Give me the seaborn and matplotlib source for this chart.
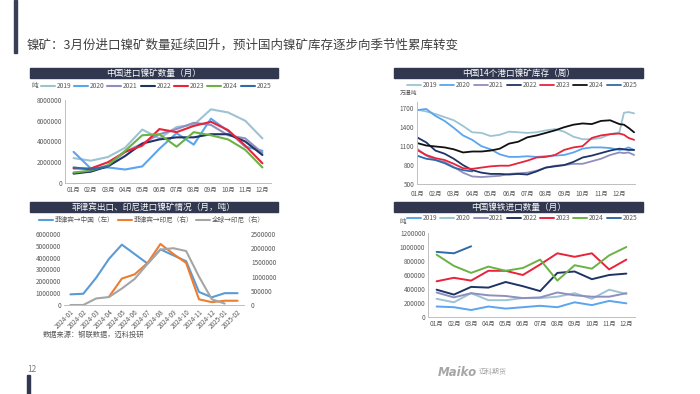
import numpy as np
import pandas as pd
import seaborn as sns
import matplotlib.pyplot as plt
from matplotlib.patches import Rectangle

sns.set_style('white')
plt.rcParams['font.family'] = ['Noto Sans CJK SC', 'DejaVu Sans']
plt.rcParams['axes.unicode_minus'] = False

nan = np.nan

### 数据
months = ['01月', '02月', '03月', '04月', '05月', '06月', '07月', '08月', '09月', '10月', '11月', '12月']
years = ['2019', '2020', '2021', '2022', '2023', '2024', '2025']

# 中国进口镍矿数量（月），吨
ore_2019 = [2400000, 2150000, 2500000, 3400000, 5150000, 4300000, 5400000, 5600000, 7100000, 6800000, 6000000, 4300000]
ore_2020 = [3000000, 1400000, 1500000, 1300000, 1600000, 3300000, 4800000, 3700000, 6200000, 5000000, 3500000, 3100000]
ore_2021 = [1000000, 1100000, 1700000, 3000000, 3800000, 4700000, 5200000, 5800000, 5600000, 4600000, 4300000, 2900000]
ore_2022 = [900000, 1100000, 1600000, 2600000, 3800000, 4200000, 4400000, 4400000, 4700000, 4700000, 4000000, 2700000]
ore_2023 = [1400000, 1400000, 2000000, 3000000, 3600000, 5200000, 4900000, 5500000, 5900000, 5100000, 3600000, 1900000]
ore_2024 = [1000000, 1200000, 1700000, 3100000, 4600000, 4700000, 3500000, 4900000, 4600000, 4200000, 3200000, 1500000]
ore_2025 = [1500000, 1300000, 1600000, nan, nan, nan, nan, nan, nan, nan, nan, nan]

# 菲律宾出口、印尼进口镍矿情况（月，吨）
periods = ['2024-01', '2024-02', '2024-03', '2024-04', '2024-05', '2024-06', '2024-07',
           '2024-08', '2024-09', '2024-10', '2024-11', '2024-12', '2025-01', '2025-02']
ph_to_cn = [900000, 950000, 2300000, 3900000, 5100000, 4300000, 3500000,
            4700000, 4200000, 3700000, 1100000, 650000, 1000000, 1000000]
ph_to_id = [nan, nan, nan, 290000, 930000, 1080000, 1480000,
            2150000, 1800000, 1480000, 200000, 100000, 150000, 150000]
world_to_id = [0, 0, 230000, 280000, 580000, 920000, 1450000,
               1950000, 2000000, 1900000, 1000000, 200000, 50000, nan]

# 中国14个港口镍矿库存（周），万湿吨；横轴为月份位置
week_pos = [1, 1.5, 2, 2.5, 3, 3.5, 4, 4.5, 5, 5.5, 6, 6.5, 7, 7.5, 8, 8.5,
            9, 9.5, 10, 10.5, 11, 11.5, 12, 12.25, 12.5, 12.8]
stk_2019 = [1680, 1650, 1610, 1560, 1510, 1420, 1320, 1310, 1260, 1280, 1330, 1320, 1310,
            1320, 1350, 1370, 1330, 1250, 1210, 1210, 1230, 1290, 1320, 1630, 1640, 1620]
stk_2020 = [1670, 1690, 1580, 1500, 1390, 1270, 1200, 1100, 1050, 970, 930, 930, 940,
            930, 940, 950, 960, 1000, 1060, 1080, 1080, 1070, 1040, 1050, 1080, 1040]
stk_2021 = [1060, 950, 880, 850, 770, 680, 620, 610, 620, 630, 660, 670, 680,
            710, 760, 790, 800, 820, 820, 860, 900, 960, 1000, 990, 1000, 960]
stk_2022 = [1240, 1160, 1030, 980, 900, 800, 720, 680, 660, 660, 650, 660, 650,
            700, 760, 780, 800, 850, 920, 950, 990, 1030, 1060, 1050, 1040, 1040]
stk_2023 = [1040, 960, 910, 880, 820, 750, 740, 760, 780, 790, 790, 830, 870,
            920, 930, 960, 1040, 1080, 1100, 1230, 1270, 1290, 1300, 1280, 1230, 1200]
stk_2024 = [1150, 1110, 1095, 1080, 1050, 1000, 1015, 1015, 1030, 1060, 1140, 1170, 1240,
            1270, 1310, 1350, 1400, 1440, 1460, 1450, 1500, 1510, 1450, 1440, 1390, 1320]
stk_2025 = [950, 900, 880, 830, 760, 720, 700, nan, nan, nan, nan, nan, nan,
            nan, nan, nan, nan, nan, nan, nan, nan, nan, nan, nan, nan, nan]

# 中国镍铁进口数量（月），吨
fe_2019 = [150000, 140000, 100000, 150000, 120000, 140000, 160000, 140000, 210000, 170000, 230000, 195000]
fe_2020 = [260000, 210000, 340000, 240000, 240000, 270000, 270000, 290000, 340000, 260000, 390000, 330000]
fe_2021 = [350000, 280000, 340000, 310000, 300000, 270000, 280000, 350000, 310000, 290000, 290000, 340000]
fe_2022 = [390000, 320000, 430000, 420000, 500000, 440000, 370000, 630000, 650000, 540000, 600000, 620000]
fe_2023 = [510000, 560000, 520000, 660000, 660000, 600000, 750000, 910000, 860000, 910000, 680000, 820000]
fe_2024 = [890000, 730000, 630000, 720000, 660000, 700000, 820000, 520000, 740000, 690000, 880000, 1000000]
fe_2025 = [930000, 910000, 1010000, nan, nan, nan, nan, nan, nan, nan, nan, nan]

### 颜色
c_grayblue = '#9dc3d3'
c_lightblue = '#5aa5ee'
c_purple = '#8f8fbf'
c_navy = '#1f3464'
c_red = '#e8233a'
c_green = '#6ab245'
c_black = '#111111'
c_blue = '#2f6aa9'
bar_color = '#31374f'
txt_color = '#595959'

W, H = 700, 394
fig = plt.figure(figsize=(W / 100, H / 100), dpi=100)


def rect(x0, y0, x1, y1):
    return [x0 / W, 1 - y1 / H, (x1 - x0) / W, (y1 - y0) / H]


def title_bar(x0, y0, x1, y1, text):
    fig.patches.append(Rectangle((x0 / W, 1 - y1 / H), (x1 - x0) / W, (y1 - y0) / H,
                                 transform=fig.transFigure, color=bar_color, zorder=0))
    fig.text((x0 + x1) / 2 / W, 1 - (y0 + y1) / 2 / H, text, color='white',
             fontsize=6.2, ha='center', va='center')


def long_form(x, series, names):
    frames = [pd.DataFrame({'x': x, 'v': s, 'year': n}) for s, n in zip(series, names)]
    return pd.concat(frames, ignore_index=True).dropna()


def style_axis(ax):
    ax.tick_params(labelsize=4.6, colors=txt_color, length=0, pad=2)
    for side in ['top', 'right']:
        ax.spines[side].set_visible(False)
    for side in ['left', 'bottom']:
        ax.spines[side].set_color('#bfbfbf')
        ax.spines[side].set_linewidth(0.7)
    ax.set_xlabel('')
    ax.set_ylabel('')


def put_legend(ax, handles, labels, cx, cy):
    ax.legend(handles, labels, loc='center', bbox_to_anchor=(cx / W, 1 - cy / H),
              bbox_transform=fig.transFigure, ncol=len(labels), frameon=False,
              fontsize=4.8, handlelength=2.1, handletextpad=0.25, columnspacing=0.45,
              labelcolor=txt_color, borderpad=0.1)


### 页面标题
fig.patches.append(Rectangle((14 / W, 1 - 53 / H), 3 / W, 53 / H, transform=fig.transFigure,
                             color='#3a3f58'))
fig.text(27 / W, 1 - 45 / H, '镍矿：3月份进口镍矿数量延续回升，预计国内镍矿库存逐步向季节性累库转变',
         fontsize=9, color='#404040', va='center', ha='left')

### 图1 中国进口镍矿数量
title_bar(30, 68, 278, 78, '中国进口镍矿数量（月）')
ax1 = fig.add_axes(rect(65, 100, 271, 183))
x_m = list(range(1, 13))
df1 = long_form(x_m, [ore_2019, ore_2020, ore_2021, ore_2022, ore_2023, ore_2024, ore_2025], years)
pal1 = dict(zip(years, [c_grayblue, c_lightblue, c_purple, c_navy, c_red, c_green, c_blue]))
sns.lineplot(data=df1, x='x', y='v', hue='year', palette=pal1, linewidth=1.5, ax=ax1)
ax1.set_xlim(0.5, 12.5)
ax1.set_ylim(0, 8000000)
ax1.set_yticks([0, 2000000, 4000000, 6000000, 8000000])
ax1.ticklabel_format(axis='y', style='plain', useOffset=False)
ax1.set_xticks(x_m)
ax1.set_xticklabels(months)
style_axis(ax1)
ax1.set_xticks(np.arange(0.5, 13, 1), minor=True)
ax1.tick_params(axis='x', which='minor', length=2, color='#bfbfbf', width=0.6)
h, l = ax1.get_legend_handles_labels()
put_legend(ax1, h, l, 156, 86)
fig.text(35 / W, 1 - 86 / H, '吨', fontsize=4.8, color=txt_color, ha='center', va='center')

### 图2 菲律宾出口、印尼进口
title_bar(30, 202, 278, 212, '菲律宾出口、印尼进口镍矿情况（月，吨）')
ax2 = fig.add_axes(rect(64, 234, 244, 305))
x_p = list(range(1, 15))
df2a = long_form(x_p, [ph_to_cn], ['菲律宾→中国（左）'])
df2b = long_form(x_p, [ph_to_id, world_to_id], ['菲律宾→印尼（右）', '全球→印尼（右）'])
sns.lineplot(data=df2a, x='x', y='v', hue='year', palette=['#5b9bd5'], linewidth=1.5, ax=ax2)
ax2r = ax2.twinx()
sns.lineplot(data=df2b, x='x', y='v', hue='year', palette=['#ed7d31', '#a5a5a5'],
             linewidth=1.5, ax=ax2r)
ax2.set_xlim(0.5, 14.5)
ax2.set_ylim(0, 6000000)
ax2r.set_ylim(0, 2500000)
ax2.set_yticks(np.arange(0, 6000001, 1000000))
ax2r.set_yticks(np.arange(0, 2500001, 500000))
ax2.ticklabel_format(axis='y', style='plain', useOffset=False)
ax2r.ticklabel_format(axis='y', style='plain', useOffset=False)
ax2.set_xticks(x_p)
ax2.set_xticklabels(periods, rotation=45, ha='right', rotation_mode='anchor')
for a in (ax2, ax2r):
    style_axis(a)
    a.spines['left'].set_visible(False)
    a.spines['right'].set_visible(False)
ax2r.spines['bottom'].set_visible(False)
ax2r.tick_params(axis='y', pad=5)
ha, la = ax2.get_legend_handles_labels()
hb, lb = ax2r.get_legend_handles_labels()
ax2r.get_legend().remove()
put_legend(ax2, ha + hb, la + lb, 152, 220)
fig.text(43 / W, 1 - 335 / H, '数据来源：钢联数据，迈科投研', fontsize=5.2, color=txt_color,
         ha='left', va='center')

### 图3 中国14个港口镍矿库存
title_bar(394, 68, 643, 78, '中国14个港口镍矿库存（周）')
ax3 = fig.add_axes(rect(417, 102, 635, 184))
df3 = long_form(week_pos, [stk_2019, stk_2020, stk_2021, stk_2022, stk_2023, stk_2024, stk_2025], years)
pal3 = dict(zip(years, [c_grayblue, c_lightblue, c_purple, c_navy, c_red, c_black, c_blue]))
sns.lineplot(data=df3, x='x', y='v', hue='year', palette=pal3, linewidth=1.3, ax=ax3)
ax3.set_xlim(1, 12.85)
ax3.set_ylim(500, 1800)
ax3.set_yticks([500, 800, 1100, 1400, 1700])
ax3.set_xticks(x_m)
ax3.set_xticklabels(months)
style_axis(ax3)
ax3.tick_params(axis='x', length=2, color='#bfbfbf', width=0.6)
h, l = ax3.get_legend_handles_labels()
put_legend(ax3, h, l, 522, 85)
fig.text(400 / W, 1 - 93 / H, '万湿吨', fontsize=4.2, color=txt_color, ha='left', va='center')

### 图4 中国镍铁进口数量
title_bar(394, 202, 643, 212, '中国镍铁进口数量（月）')
ax4 = fig.add_axes(rect(428, 233, 635, 317))
df4 = long_form(x_m, [fe_2019, fe_2020, fe_2021, fe_2022, fe_2023, fe_2024, fe_2025], years)
pal4 = dict(zip(years, [c_lightblue, c_grayblue, c_purple, c_navy, c_red, c_green, c_blue]))
sns.lineplot(data=df4, x='x', y='v', hue='year', palette=pal4, linewidth=1.4, ax=ax4)
ax4.set_xlim(0.5, 12.5)
ax4.set_ylim(0, 1200000)
ax4.set_yticks(np.arange(0, 1200001, 200000))
ax4.ticklabel_format(axis='y', style='plain', useOffset=False)
ax4.set_xticks(x_m)
ax4.set_xticklabels(months)
style_axis(ax4)
ax4.set_xticks(np.arange(0.5, 13, 1), minor=True)
ax4.tick_params(axis='x', which='minor', length=2, color='#bfbfbf', width=0.6)
h, l = ax4.get_legend_handles_labels()
put_legend(ax4, h, l, 522, 218)
fig.text(400 / W, 1 - 222 / H, '吨', fontsize=4.8, color=txt_color, ha='left', va='center')

### 页脚
fig.text(27 / W, 1 - 369 / H, '12', fontsize=6, color='#7f7f7f', ha='left', va='center')
fig.patches.append(Rectangle((27 / W, 0), 3 / W, 19 / H, transform=fig.transFigure,
                             color=bar_color))
fig.text(477 / W, 1 - 372 / H, 'Maiko', fontsize=8.5, color='#a6a6a6', style='italic',
         weight='bold', ha='right', va='center', family=['DejaVu Sans'])
fig.text(479 / W, 1 - 372 / H, '迈科期货', fontsize=5, color='#a6a6a6', ha='left', va='center')

fig.savefig('out.png', dpi=100)
